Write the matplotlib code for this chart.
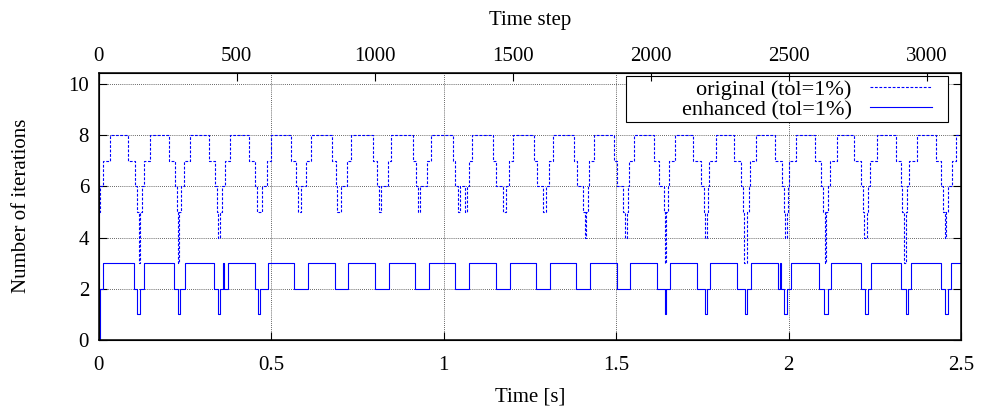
import numpy as np
import matplotlib
matplotlib.use('Agg')
import matplotlib.pyplot as plt
from matplotlib.patches import Rectangle

# ---------------------------------------------------------------
# Data: change points of the step signals
# ---------------------------------------------------------------
dt = 0.0008                 # [s] time step
t_end = 2.5                 # [s]

# original solver (tol=1%)
orig_t = [0.000, 0.0035, 0.013, 0.032,
          0.0855, 0.105, 0.111, 0.116, 0.119, 0.124, 0.132, 0.148,
          0.204, 0.221, 0.226, 0.230, 0.233, 0.239, 0.248, 0.264,
          0.320, 0.337, 0.343, 0.346, 0.352, 0.356, 0.366, 0.381,
          0.436, 0.453, 0.459, 0.472, 0.487, 0.499,
          0.557, 0.572, 0.577, 0.586, 0.601, 0.615,
          0.675, 0.688, 0.692, 0.702, 0.721, 0.731,
          0.794, 0.806, 0.813, 0.818, 0.838, 0.847,
          0.910, 0.919, 0.926, 0.931, 0.953, 0.963,
          1.026, 1.033, 1.042, 1.047, 1.061, 1.067, 1.072, 1.082,
          1.143, 1.153, 1.172, 1.182, 1.190, 1.200,
          1.261, 1.270, 1.288, 1.296, 1.306, 1.316,
          1.377, 1.386, 1.404, 1.409, 1.413, 1.417, 1.422, 1.436,
          1.494, 1.502, 1.519, 1.525, 1.530, 1.533, 1.538, 1.552,
          1.610, 1.625, 1.639, 1.641, 1.645, 1.649, 1.654, 1.670,
          1.723, 1.746, 1.755, 1.757, 1.762, 1.767, 1.770, 1.789,
          1.842, 1.861, 1.869, 1.871, 1.879, 1.884, 1.888, 1.905,
          1.961, 1.980, 1.987, 1.989, 1.994, 1.997, 2.001, 2.021,
          2.077, 2.093, 2.101, 2.105, 2.109, 2.114, 2.120, 2.139,
          2.190, 2.209, 2.216, 2.219, 2.226, 2.230, 2.236, 2.256,
          2.311, 2.325, 2.330, 2.335, 2.341, 2.343, 2.349, 2.372,
          2.427, 2.443, 2.449, 2.453, 2.457, 2.461, 2.475, 2.485, 2.500]
orig_n = [5, 6, 7, 8,
          7, 6, 5, 3, 5, 6, 7, 8,
          7, 6, 5, 3, 5, 6, 7, 8,
          7, 6, 5, 4, 5, 6, 7, 8,
          7, 6, 5, 6, 7, 8,
          7, 6, 5, 6, 7, 8,
          7, 6, 5, 6, 7, 8,
          7, 6, 5, 6, 7, 8,
          7, 6, 5, 6, 7, 8,
          7, 6, 5, 6, 5, 6, 7, 8,
          7, 6, 5, 6, 7, 8,
          7, 6, 5, 6, 7, 8,
          7, 6, 5, 4, 5, 6, 7, 8,
          7, 6, 5, 4, 5, 6, 7, 8,
          7, 6, 5, 3, 5, 6, 7, 8,
          7, 6, 5, 4, 5, 6, 7, 8,
          7, 6, 5, 3, 5, 6, 7, 8,
          7, 6, 5, 4, 5, 6, 7, 8,
          7, 6, 5, 3, 5, 6, 7, 8,
          7, 6, 5, 4, 5, 6, 7, 8,
          7, 6, 5, 3, 5, 6, 7, 8,
          7, 6, 5, 4, 5, 6, 7, 8, 8]

# enhanced solver (tol=1%)
enh_t = [0.000, 0.0035, 0.013,
         0.103, 0.111, 0.120, 0.130,
         0.219, 0.229, 0.236, 0.251,
         0.335, 0.345, 0.351, 0.360, 0.363, 0.374,
         0.453, 0.462, 0.466, 0.491,
         0.567, 0.607, 0.685, 0.723, 0.801, 0.842, 0.917, 0.958,
         1.033, 1.074, 1.151, 1.192, 1.267, 1.308, 1.383, 1.425,
         1.501, 1.541,
         1.617, 1.641, 1.645, 1.656,
         1.734, 1.758, 1.762, 1.772,
         1.850, 1.874, 1.879, 1.890,
         1.968, 1.974, 1.978, 1.988, 1.995, 2.006,
         2.088, 2.103, 2.113, 2.122,
         2.209, 2.222, 2.229, 2.238,
         2.327, 2.340, 2.346, 2.356,
         2.443, 2.453, 2.462, 2.470, 2.500]
enh_n = [0, 2, 3,
         2, 1, 2, 3,
         2, 1, 2, 3,
         2, 1, 2, 3, 2, 3,
         2, 1, 2, 3,
         2, 3, 2, 3, 2, 3, 2, 3,
         2, 3, 2, 3, 2, 3, 2, 3,
         2, 3,
         2, 1, 2, 3,
         2, 1, 2, 3,
         2, 1, 2, 3,
         2, 3, 2, 1, 2, 3,
         2, 1, 2, 3,
         2, 1, 2, 3,
         2, 1, 2, 3,
         2, 1, 2, 3, 3]

x_ticks = [0, 0.5, 1, 1.5, 2, 2.5]
x2_ticks = [0, 500, 1000, 1500, 2000, 2500, 3000]
y_ticks = [0, 2, 4, 6, 8, 10]

# ---------------------------------------------------------------
# Plot
# ---------------------------------------------------------------
plt.rcParams['font.family'] = ['Liberation Serif', 'DejaVu Serif']
plt.rcParams['font.size'] = 15

fig = plt.figure(figsize=(9.81, 4.12), dpi=100)
ax = fig.add_axes([0.1007, 0.1755, 0.879, 0.648])

ax.plot(orig_t, orig_n, drawstyle='steps-post', color='#0000ff', lw=0.8,
        linestyle=(0, (2.5, 1.5)), label='original (tol=1%)')
ax.plot(enh_t, enh_n, drawstyle='steps-post', color='#0000ff', lw=0.8,
        label='enhanced (tol=1%)')

ax.set_xlim(0, t_end)
ax.set_ylim(0, 10.45)
ax.set_xticks(x_ticks)
ax.set_xticklabels(['%g' % v for v in x_ticks])
ax.set_yticks(y_ticks)
ax.grid(True, color='0.2', linestyle=(0, (1, 1.5)), lw=0.6)
ax.tick_params(direction='in', length=6, width=0.8, top=False, right=True)
ax.tick_params(axis='x', pad=12)
ax.tick_params(axis='y', pad=7)
for sp in ax.spines.values():
    sp.set_linewidth(1.1)

ax.set_xlabel('Time [s]', labelpad=9)
ax.set_ylabel('Number of iterations', labelpad=27)

# top axis: time steps
ax2 = ax.twiny()
ax2.set_xlim(0, t_end / dt)
ax2.set_xticks(x2_ticks)
ax2.tick_params(direction='in', length=6, width=0.8, pad=5)
ax2.set_xlabel('Time step', labelpad=16)

# gnuplot-like key: right-aligned text, sample on the right, wide box
leg = ax.legend(loc='upper right', bbox_to_anchor=(0.9661, 0.9764),
                markerfirst=False, frameon=False, fontsize=16,
                handlelength=2.8, borderaxespad=0, borderpad=0,
                labelspacing=0.0, handletextpad=0.8)
leg.set_zorder(6)
fig.canvas.draw()
bb = leg.get_window_extent(fig.canvas.get_renderer())
x0, y0 = ax.transAxes.inverted().transform((bb.x0 - 56, bb.y0 - 2))
x1, y1 = ax.transAxes.inverted().transform((bb.x1 + 16, bb.y1 + 3))
ax.add_patch(Rectangle((x0, y0), x1 - x0, y1 - y0, transform=ax.transAxes,
                       facecolor='white', edgecolor='black', lw=0.8,
                       zorder=5, clip_on=False))

fig.savefig('out.png', dpi=100)
